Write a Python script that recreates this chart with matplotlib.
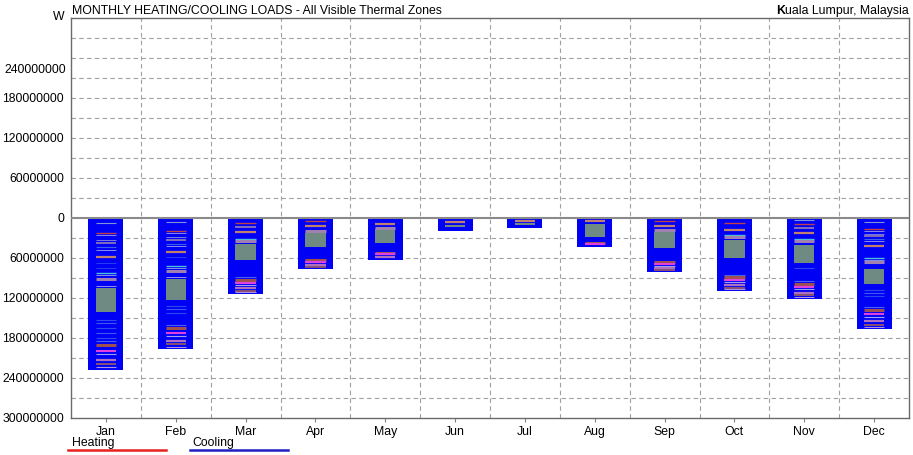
import numpy as np
import matplotlib.pyplot as plt
from matplotlib.lines import Line2D

plt.rcParams['font.family'] = ['Liberation Sans', 'DejaVu Sans']

# monthly cooling loads (W), heating is zero in Kuala Lumpur
months = ["Jan", "Feb", "Mar", "Apr", "May", "Jun", "Jul", "Aug", "Sep", "Oct", "Nov", "Dec"]
cooling = [228e6, 196.5e6, 114e6, 76.5e6, 63e6, 19.5e6, 15e6, 43.5e6, 81e6, 109.5e6, 121.5e6, 166.5e6]
heating = [0] * 12

# largest zone block (start / end depth in W)
big_zone_top = [105e6, 91.5e6, 39e6, 22.5e6, 16.5e6, 10.5e6, 7.5e6, 9e6, 21e6, 33e6, 40.5e6, 76.5e6]
big_zone_bot = [141e6, 123e6, 63e6, 43.5e6, 37.5e6, 14e6, 10.5e6, 28.5e6, 45e6, 60e6, 67.5e6, 99e6]

# smaller zones: position as fraction of region above / below the big block
upper_pos = [0.07, 0.21, 0.25, 0.31, 0.36, 0.42, 0.46, 0.555, 0.64, 0.72, 0.79, 0.82, 0.87, 0.97]
upper_col = ['#7f95d8', '#c0404a', '#8a8ae8', '#7a7ae0', '#9a80b0', '#3a60e8', '#8c8ce8',
             '#c08070', '#2a4af0', '#2a4af0', '#50c0d8', '#8890e8', '#a080b0', '#9090f0']
upper_lw = [0.8, 1.0, 0.7, 0.7, 1.2, 0.8, 0.7, 1.6, 0.6, 0.6, 1.0, 0.7, 2.2, 0.7]
upper_rank = [5, 2, 9, 8, 4, 6, 10, 0, 12, 13, 3, 7, 1, 11]

lower_pos = [0.13, 0.19, 0.27, 0.36, 0.44, 0.50, 0.575, 0.67, 0.73, 0.83, 0.90, 0.95]
lower_col = ['#2a4af0', '#3a5af0', '#2a4af0', '#3a5af0', '#2a4af0', '#4a60f0',
             '#a05050', '#e040e0', '#a0a0f0', '#b070c0', '#a06060', '#b090e0']
lower_lw = [0.8, 0.8, 0.8, 0.8, 0.8, 0.8, 2.2, 1.5, 0.8, 1.6, 1.2, 0.8]
lower_rank = [7, 8, 9, 10, 11, 6, 0, 1, 4, 2, 3, 5]

BLUE = '#0000f5'
GREY_GREEN = '#6e8a82'
FS = 8.8

fig = plt.figure(figsize=(9.13, 4.55), dpi=100)
ax = fig.add_axes([71 / 913, 1 - 418 / 455, 838 / 913, 400 / 455])

x = np.arange(len(months))
cool = np.array(cooling)
ax.bar(x, heating, width=0.5, color='red', zorder=2)
ax.bar(x, -cool, width=0.5, color=BLUE, zorder=2, linewidth=0)

inner = 0.145
ax.bar(x, -(np.array(big_zone_bot) - np.array(big_zone_top)), bottom=-np.array(big_zone_top),
       width=2 * inner, color=GREY_GREEN, zorder=3, linewidth=0)

px = 1.5e6  # W per pixel
for i in range(len(months)):
    top_h = big_zone_top[i]
    n_up = int(top_h / px / 4.5)
    for p, c, lw, r in zip(upper_pos, upper_col, upper_lw, upper_rank):
        if r < n_up:
            ax.hlines(-p * top_h, x[i] - inner, x[i] + inner, colors=c, linewidth=lw, zorder=4)
    low_h = cooling[i] - big_zone_bot[i]
    n_low = int(low_h / px / 4.5)
    for p, c, lw, r in zip(lower_pos, lower_col, lower_lw, lower_rank):
        if r < n_low:
            ax.hlines(-(big_zone_bot[i] + p * low_h), x[i] - inner, x[i] + inner,
                      colors=c, linewidth=lw, zorder=4)

ax.set_xlim(-0.5, 11.5)
ax.set_ylim(-300e6, 300e6)

# grid
for yy in np.arange(-270e6, 300e6, 30e6):
    if yy != 0:
        ax.axhline(yy, color='#a0a0a0', linewidth=0.8, linestyle=(0, (4, 3)), zorder=1)
for xx in np.arange(0.5, 11.5, 1):
    ax.axvline(xx, color='#a0a0a0', linewidth=0.8, linestyle=(0, (4, 3)), zorder=1)
ax.axhline(0, color='#8a8a8a', linewidth=1.5, zorder=5)

yt = [-300e6, -240e6, -180e6, -120e6, -60e6, 0, 60e6, 120e6, 180e6]
ax.set_yticks(yt)
ax.set_yticklabels([f"{abs(int(v))}" for v in yt], fontsize=FS)
ax.text(-0.006, 222e6, "240000000", transform=ax.get_yaxis_transform(),
        ha='right', va='center', fontsize=FS)
ax.tick_params(axis='y', length=0, pad=5)
ax.set_xticks(x)
ax.set_xticklabels(months, fontsize=FS)
ax.tick_params(axis='x', length=3, color='#808080', pad=3)

for s in ax.spines.values():
    s.set_color('#6a6a6a')
    s.set_linewidth(1.0)

fig.text(72 / 913, 1 - 11 / 455, "MONTHLY HEATING/COOLING LOADS - All Visible Thermal Zones",
         fontsize=FS, ha='left', va='center')
fig.text(59 / 913, 1 - 17 / 455, "W", fontsize=FS, ha='center', va='center')
t = fig.text(909 / 913, 1 - 11 / 455, "uala Lumpur, Malaysia", fontsize=FS, ha='right', va='center')
fig.canvas.draw()
ax.annotate("K", xy=(0, 0), xycoords=t, ha='right', va='bottom', fontsize=FS, fontweight='bold',
            annotation_clip=False)

# legend
fig.text(72 / 913, 1 - 443 / 455, "Heating", fontsize=FS, ha='left', va='center')
fig.add_artist(Line2D([68 / 913, 166 / 913], [1 - 450 / 455, 1 - 450 / 455], color='#e82020', linewidth=1.8))
fig.text(192 / 913, 1 - 443 / 455, "Cooling", fontsize=FS, ha='left', va='center')
fig.add_artist(Line2D([190 / 913, 288 / 913], [1 - 450 / 455, 1 - 450 / 455], color='#2020c0', linewidth=1.8))

fig.savefig("out.png", dpi=100)
